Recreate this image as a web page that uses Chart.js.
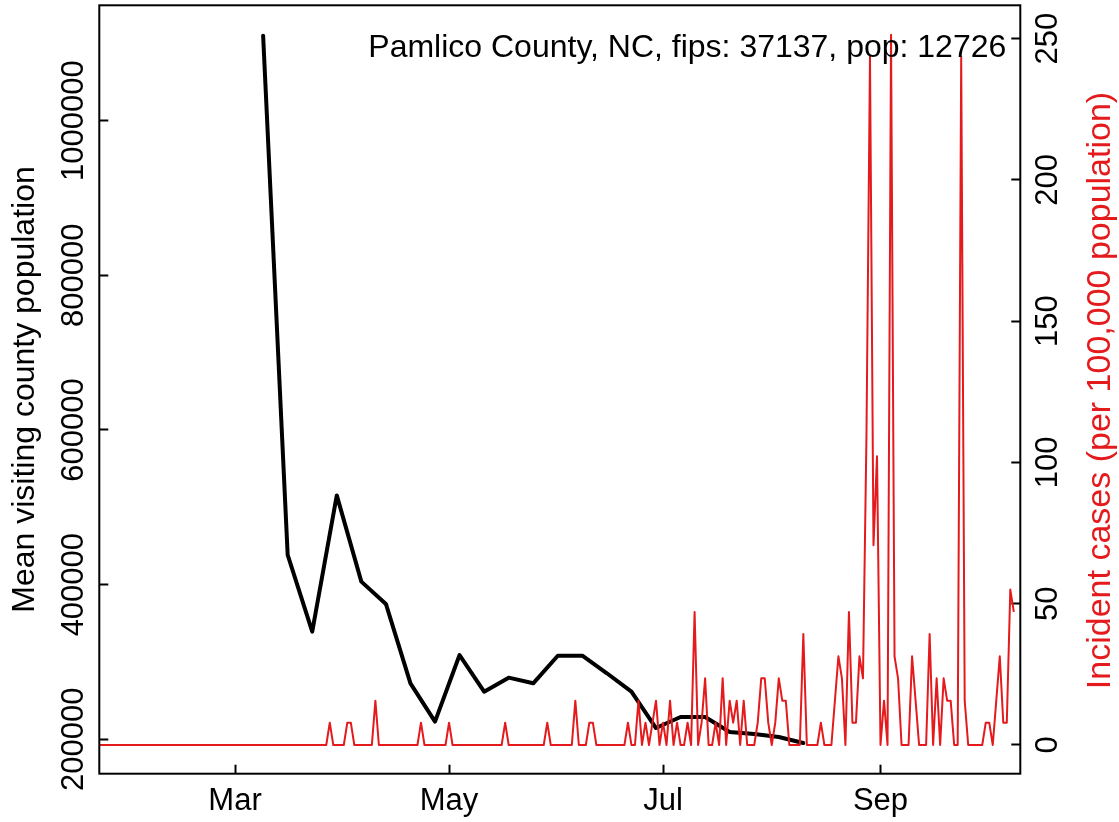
<!DOCTYPE html>
<html><head><meta charset="utf-8">
<script src="https://cdn.jsdelivr.net/npm/chart.js@4.4.1/dist/chart.umd.min.js"></script>
<style>html,body{margin:0;padding:0;background:#fff;}#wrap{width:1119px;height:822px;}</style>
</head><body><div id="wrap"><canvas id="c" width="1119" height="822"></canvas></div>
<script>
const chartTitle = 'Pamlico County, NC, fips: 37137, pop: 12726';
const leftAxisTitle = 'Mean visiting county population';
const rightAxisTitle = 'Incident cases (per 100,000 population)';
const xTickDates = ['2020-03-01', '2020-05-01', '2020-07-01', '2020-09-01'];
const xTickLabels = ['Mar', 'May', 'Jul', 'Sep'];
const leftTicks = [200000, 400000, 600000, 800000, 1000000];
const rightTicks = [0, 50, 100, 150, 200, 250];

// weekly mean visiting county population, starting 2020-03-09
const visitStart = '2020-03-09';
const visitValues = [1110000, 438600, 339300, 515400, 403900, 375100, 272400, 222800,
  309000, 261600, 279700, 272400, 308100, 308100, 285400, 261600,
  214600, 228800, 228800, 209400, 206800, 203000, 195300];

// daily incident cases per 100,000, starting 2020-01-21
const caseStart = '2020-01-21';
const caseValues = [
  0,0,0,0,0,0,0,0,0,0,
  0,0,0,0,0,0,0,0,0,0,
  0,0,0,0,0,0,0,0,0,0,
  0,0,0,0,0,0,0,0,0,0,
  0,0,0,0,0,0,0,0,0,0,
  0,0,0,0,0,0,0,0,0,0,
  0,0,0,0,0,0,0,7.9,0,0,
  0,0,7.9,7.9,0,0,0,0,0,0,
  15.7,0,0,0,0,0,0,0,0,0,
  0,0,0,7.9,0,0,0,0,0,0,
  0,7.9,0,0,0,0,0,0,0,0,
  0,0,0,0,0,0,0,7.9,0,0,
  0,0,0,0,0,0,0,0,0,7.9,
  0,0,0,0,0,0,0,15.7,0,0,
  0,7.9,7.9,0,0,0,0,0,0,0,
  0,0,7.9,0,0,15.7,0,7.9,0,7.9,
  15.7,0,7.9,0,15.7,0,7.9,0,0,7.9,
  0,47.1,0,7.9,23.6,0,0,7.9,0,23.6,
  0,15.7,7.9,15.7,0,15.7,0,0,0,7.9,
  23.6,23.6,7.9,0,7.9,23.6,15.7,15.7,0,0,
  0,0,39.3,0,0,0,0,7.9,0,0,
  0,15.7,31.4,23.6,0,47.1,7.9,7.9,31.4,23.6,
  110.0,243.6,70.7,102.2,0,15.7,0,251.4,31.4,23.6,
  0,0,0,31.4,15.7,0,0,0,39.3,0,
  23.6,0,23.6,15.7,15.7,0,0,243.6,15.7,0,
  0,0,0,0,7.9,7.9,0,15.7,31.4,7.9,
  7.9,55.0,47.1
];

const RED = 'rgb(228,26,28)';
const FONT = '"Liberation Sans", Arial, Helvetica, sans-serif';

function dayOf(s) {
  return (Date.parse(s + 'T00:00:00Z') - Date.parse('2020-01-01T00:00:00Z')) / 86400000;
}
const xTickDays = xTickDates.map(dayOf);
const visitDays = visitValues.map((_, i) => dayOf(visitStart) + 7 * i);
const caseDays = caseValues.map((_, i) => dayOf(caseStart) + i);

const boxPlugin = {
  id: 'boxAndText',
  afterDraw(chart) {
    const c = chart.ctx, a = chart.chartArea;
    c.save();
    c.strokeStyle = '#000';
    c.lineWidth = 2;
    c.strokeRect(a.left, a.top, a.right - a.left, a.bottom - a.top);
    c.fillStyle = '#000';
    c.font = '32px ' + FONT;
    c.textAlign = 'right';
    c.textBaseline = 'alphabetic';
    c.fillText(chartTitle, a.right - 14, a.top + 51.5);
    c.translate(1101, (a.top + a.bottom) / 2 + 1);
    c.rotate(-Math.PI / 2);
    c.textAlign = 'center';
    c.textBaseline = 'middle';
    c.fillStyle = RED;
    c.font = '34px ' + FONT;
    c.fillText(rightAxisTitle, 0, 0);
    c.restore();
  }
};

const tickFont = { family: FONT, size: 31 };
const noPad = s => { s.paddingTop = 0; s.paddingBottom = 0; s.paddingLeft = 0; s.paddingRight = 0; };

new Chart(document.getElementById('c'), {
  type: 'line',
  data: {
    datasets: [
      {
        label: 'Incident cases',
        data: caseDays.map((d, i) => ({ x: d, y: caseValues[i] })),
        yAxisID: 'y2', borderColor: RED, borderWidth: 2, pointRadius: 0,
        tension: 0, fill: false, order: 0, borderJoinStyle: 'round'
      },
      {
        label: 'Mean visiting county population',
        data: visitDays.map((d, i) => ({ x: d, y: visitValues[i] })),
        yAxisID: 'y', borderColor: '#000', borderWidth: 4, pointRadius: 0,
        tension: 0, fill: false, order: 1, borderJoinStyle: 'round', borderCapStyle: 'round'
      }
    ]
  },
  options: {
    responsive: false,
    animation: false,
    devicePixelRatio: 1,
    layout: { padding: { top: 5.3, left: 0, right: 0, bottom: 0 } },
    plugins: { legend: { display: false }, tooltip: { enabled: false }, title: { display: false } },
    scales: {
      x: {
        type: 'linear', position: 'bottom', min: 21.3, max: 283.85,
        afterBuildTicks: s => { s.ticks = xTickDays.map(v => ({ value: v })); },
        afterFit: s => { s.height = 48.3; noPad(s); },
        ticks: {
          callback: (v, i) => xTickLabels[i], font: tickFont, color: '#000',
          padding: 18.5, autoSkip: false, maxRotation: 0, minRotation: 0
        },
        grid: { drawOnChartArea: false, drawTicks: true, tickLength: -9, tickColor: '#000', tickWidth: 2 },
        border: { display: false }
      },
      y: {
        type: 'linear', position: 'left', min: 155512, max: 1149240,
        afterBuildTicks: s => { s.ticks = leftTicks.map(v => ({ value: v })); },
        afterFit: s => { s.width = 99.3; noPad(s); },
        ticks: {
          callback: v => String(v), font: tickFont, color: '#000',
          minRotation: 90, maxRotation: 90, crossAlign: 'center', padding: -26, autoSkip: false
        },
        title: { display: true, text: leftAxisTitle, font: { family: FONT, size: 32 }, color: '#000', padding: { top: 6, bottom: 0 } },
        grid: { drawOnChartArea: false, drawTicks: true, tickLength: -9, tickColor: '#000', tickWidth: 2 },
        border: { display: false }
      },
      y2: {
        type: 'linear', position: 'right', min: -10.16, max: 261.82,
        afterBuildTicks: s => { s.ticks = rightTicks.map(v => ({ value: v })); },
        afterFit: s => { s.width = 98.7; noPad(s); },
        ticks: {
          callback: v => String(v), font: tickFont, color: '#000',
          minRotation: 90, maxRotation: 90, crossAlign: 'center', padding: 11, autoSkip: false
        },
        grid: { drawOnChartArea: false, drawTicks: true, tickLength: -9, tickColor: '#000', tickWidth: 2 },
        border: { display: false }
      }
    }
  },
  plugins: [boxPlugin]
});
</script>
</body></html>
